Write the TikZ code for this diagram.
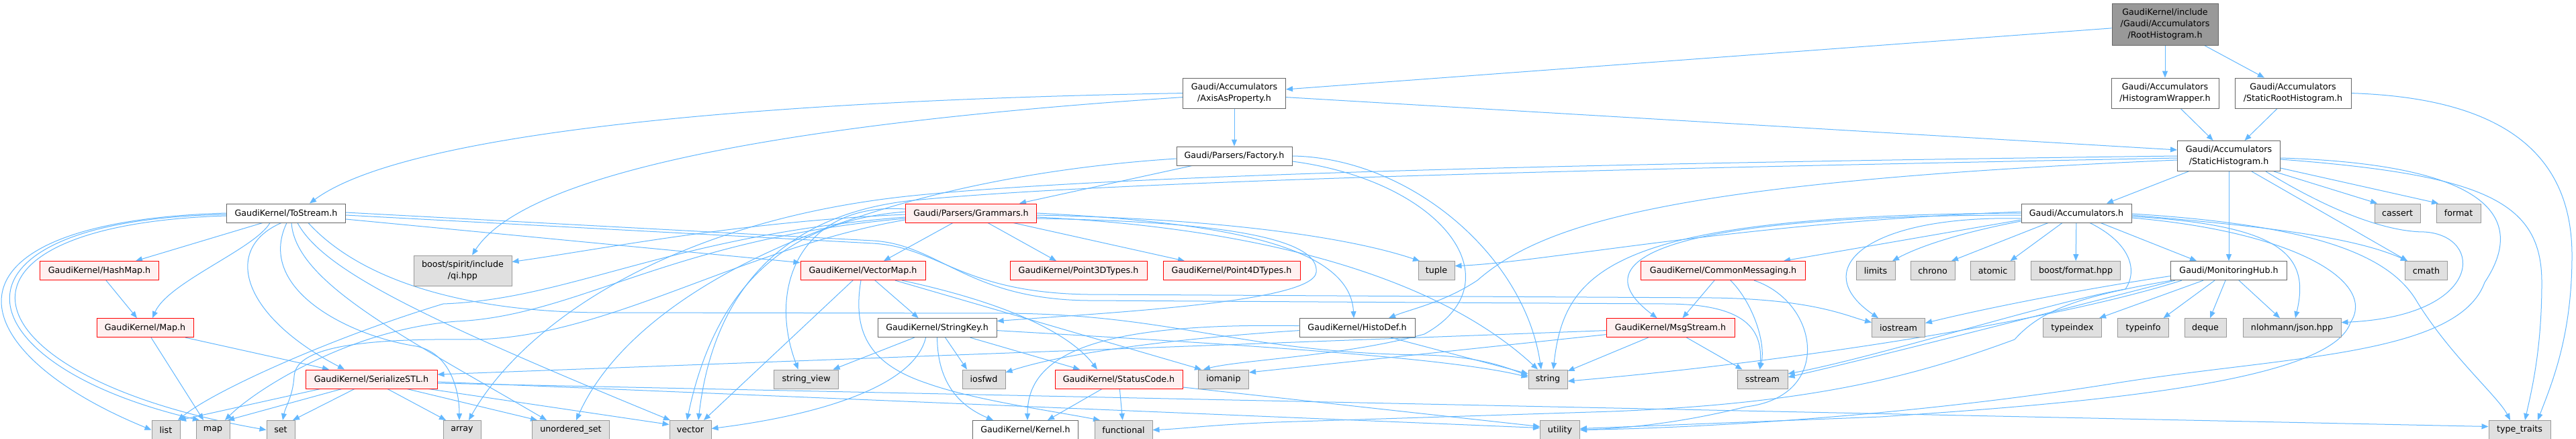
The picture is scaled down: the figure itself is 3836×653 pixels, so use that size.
\documentclass[tikz,border=0pt]{standalone}
\usepackage{fontspec}
\setmainfont{DejaVu Sans}
\usetikzlibrary{arrows.meta}
\definecolor{edgec}{HTML}{63B8FF}
\definecolor{plainb}{HTML}{666666}
\definecolor{sysb}{HTML}{999999}
\definecolor{sysf}{HTML}{E0E0E0}
\definecolor{redf}{HTML}{FFF0F0}
\definecolor{redb}{HTML}{FF0000}
\definecolor{rootf}{HTML}{999999}
\pgfdeclarelayer{bg}
\pgfsetlayers{bg,main}
\tikzset{
  nd/.style={rectangle, inner sep=0pt, font=\fontsize{12.7}{17.3}\selectfont, align=center, line width=1pt},
  pl/.style={nd, draw=plainb, fill=white},
  rd/.style={nd, draw=redb, fill=redf},
  sy/.style={nd, draw=sysb, fill=sysf},
  rt/.style={nd, draw=plainb, fill=rootf},
  e/.style={draw=edgec, line width=1pt, -{Triangle[length=10pt,width=8pt]}},
}
\begin{document}
\begin{tikzpicture}[x=1pt,y=-1pt]
\useasboundingbox (0,0) rectangle (3836,653);
% ---------- nodes ----------
\node[rt, minimum width=158, minimum height=62] (root) at (3224,36) {GaudiKernel/include\\/Gaudi/Accumulators\\/RootHistogram.h};
\node[pl, minimum width=153, minimum height=45] (axis) at (1838,138.6) {Gaudi/Accumulators\\/AxisAsProperty.h};
\node[pl, minimum width=160, minimum height=45] (hwrap) at (3224,138.6) {Gaudi/Accumulators\\/HistogramWrapper.h};
\node[pl, minimum width=173, minimum height=45] (srh) at (3414.5,138.6) {Gaudi/Accumulators\\/StaticRootHistogram.h};
\node[pl, minimum width=172, minimum height=28] (factory) at (1838,232) {Gaudi/Parsers/Factory.h};
\node[pl, minimum width=153, minimum height=45] (sh) at (3319,232) {Gaudi/Accumulators\\/StaticHistogram.h};
\node[pl, minimum width=177, minimum height=28] (tostream) at (426,317) {GaudiKernel/ToStream.h};
\node[rd, minimum width=195, minimum height=28] (grammars) at (1446,317) {Gaudi/Parsers/Grammars.h};
\node[pl, minimum width=164, minimum height=28] (acc) at (3092,317) {Gaudi/Accumulators.h};
\node[sy, minimum width=68, minimum height=28] (cassert) at (3570,317) {cassert};
\node[sy, minimum width=66, minimum height=28] (format) at (3661,317) {format};
\node[rd, minimum width=177, minimum height=28] (hashmap) at (148,402.6) {GaudiKernel/HashMap.h};
\node[sy, minimum width=146, minimum height=45] (qi) at (689,402.5) {boost/spirit/include\\/qi.hpp};
\node[rd, minimum width=186, minimum height=28] (vectormap) at (1285,402.6) {GaudiKernel/VectorMap.h};
\node[rd, minimum width=204, minimum height=28] (p3d) at (1606,402.6) {GaudiKernel/Point3DTypes.h};
\node[rd, minimum width=204, minimum height=28] (p4d) at (1834,402.6) {GaudiKernel/Point4DTypes.h};
\node[sy, minimum width=54, minimum height=28] (tuple) at (2139,402.6) {tuple};
\node[rd, minimum width=245, minimum height=28] (cm) at (2566,402.6) {GaudiKernel/CommonMessaging.h};
\node[sy, minimum width=58, minimum height=28] (limits) at (2793,402.6) {limits};
\node[sy, minimum width=66, minimum height=28] (chrono) at (2878,402.6) {chrono};
\node[sy, minimum width=66, minimum height=28] (atomic) at (2967.6,402.6) {atomic};
\node[sy, minimum width=133, minimum height=28] (bformat) at (3091,402.6) {boost/format.hpp};
\node[pl, minimum width=173, minimum height=28] (mhub) at (3319,402.6) {Gaudi/MonitoringHub.h};
\node[sy, minimum width=63, minimum height=28] (cmath) at (3613,402.6) {cmath};
\node[rd, minimum width=144, minimum height=28] (maph) at (216,487.6) {GaudiKernel/Map.h};
\node[pl, minimum width=177, minimum height=28] (stringkey) at (1395.6,487.6) {GaudiKernel/StringKey.h};
\node[pl, minimum width=172, minimum height=28] (histodef) at (2021,487.6) {GaudiKernel/HistoDef.h};
\node[rd, minimum width=191, minimum height=28] (msgstream) at (2487.5,487.6) {GaudiKernel/MsgStream.h};
\node[sy, minimum width=79, minimum height=28] (iostream) at (2827,487.6) {iostream};
\node[sy, minimum width=87, minimum height=28] (typeindex) at (3086,487.6) {typeindex};
\node[sy, minimum width=76, minimum height=28] (typeinfo) at (3191.6,487.6) {typeinfo};
\node[sy, minimum width=62, minimum height=28] (deque) at (3284,487.6) {deque};
\node[sy, minimum width=146, minimum height=28] (json) at (3413,487.6) {nlohmann/json.hpp};
\node[rd, minimum width=196, minimum height=28] (sstl) at (553,564) {GaudiKernel/SerializeSTL.h};
\node[sy, minimum width=96, minimum height=28] (stringview) at (1200.6,564) {string\_view};
\node[sy, minimum width=64, minimum height=28] (iosfwd) at (1465,564) {iosfwd};
\node[rd, minimum width=190, minimum height=28] (statuscode) at (1666,564) {GaudiKernel/StatusCode.h};
\node[sy, minimum width=75, minimum height=28] (iomanip) at (1822,564) {iomanip};
\node[sy, minimum width=58, minimum height=28] (string) at (2305,564) {string};
\node[sy, minimum width=75, minimum height=28] (sstream) at (2624.5,564) {sstream};
\node[sy, minimum width=42, minimum height=28] (list) at (247,639.5) {list};
\node[sy, minimum width=50, minimum height=28] (map) at (317,639.5) {map};
\node[sy, minimum width=42, minimum height=28] (set) at (418,639.5) {set};
\node[sy, minimum width=56, minimum height=28] (array) at (688,639.5) {array};
\node[sy, minimum width=115, minimum height=28] (uset) at (850,639.5) {unordered\_set};
\node[sy, minimum width=62, minimum height=28] (vector) at (1028,639.5) {vector};
\node[pl, minimum width=157, minimum height=28] (kernel) at (1527,639.5) {GaudiKernel/Kernel.h};
\node[sy, minimum width=86, minimum height=28] (functional) at (1673,639.5) {functional};
\node[sy, minimum width=59, minimum height=28] (utility) at (2323,639.5) {utility};
\node[sy, minimum width=92, minimum height=28] (typetraits) at (3752,639.5) {type\_traits};
% ---------- edges ----------
\begin{pgfonlayer}{bg}
\fill[white] (0,0) rectangle (3836,653);
% root
\draw[e] (root) -- (axis);
\draw[e] (root) -- (hwrap);
\draw[e] (root) -- (srh);
\draw[e] (hwrap) -- (sh);
\draw[e] (srh) -- (sh);
\draw[e] (srh.east) .. controls (3700,145) and (3830,210) .. (3830,380) .. controls (3830,500) and (3800,570) .. ([xshift=27pt]typetraits.north);
% axis
\draw[e] (axis.west) .. controls (1100,150) and (600,200) .. ([xshift=35pt]tostream.north);
\draw[e] ([yshift=-6pt]axis.west) .. controls (1150,185) and (780,260) .. ([xshift=14pt]qi.north);
\draw[e] (axis) -- (factory);
\draw[e] ([yshift=-6pt]axis.east) -- ([yshift=9pt]sh.west);
% factory
\draw[e] ([xshift=-63pt]factory.south) -- ([xshift=72pt]grammars.north);
\draw[e] ([yshift=-4pt]factory.west) .. controls (1300,265) and (950,420) .. ([xshift=8pt]uset.north);
\draw[e] (factory.east) .. controls (2100,235) and (2270,380) .. ([xshift=-10pt]string.north);
\draw[e] ([yshift=-8pt]factory.east) .. controls (2150,270) and (2260,420) .. (2121,497) .. controls (2000,530) and (1850,535) .. ([xshift=-30pt]iomanip.north);
% static histogram
\draw[e] ([xshift=-60pt]sh.south) -- ([xshift=45pt]acc.north);
\draw[e] (sh) -- (mhub);
\draw[e] ([xshift=67pt]sh.south) -- ([xshift=-30pt]cassert.north);
\draw[e] ([yshift=-18pt]sh.east) -- ([xshift=-30pt]format.north);
\draw[e] ([xshift=34pt]sh.south) -- ([xshift=-28pt]cmath.north);
\draw[e] ([xshift=55pt]sh.south) .. controls (3480,320) and (3560,345) .. (3610,345) .. controls (3700,350) and (3700,470) .. ([yshift=8pt]json.east);
\draw[e] ([yshift=-5pt]sh.east) .. controls (3700,260) and (3785,300) .. (3785,420) .. controls (3785,520) and (3770,580) .. ([xshift=8pt]typetraits.north);
\draw[e] ([yshift=-3pt]sh.east) .. controls (3720,245) and (3760,330) .. (3700,420) .. controls (3660,530) and (3400,530) .. (3150,570) .. controls (2900,610) and (2600,635) .. (utility.east);
\draw[e] (sh.west) .. controls (2600,240) and (1700,255) .. (1350,292) .. controls (1000,330) and (780,480) .. ([xshift=10pt]array.north);
\draw[e] ([yshift=-3pt]sh.west) .. controls (2600,248) and (1700,265) .. (1360,298) .. controls (1150,320) and (1060,450) .. ([xshift=12pt]vector.north);
\draw[e] ([yshift=-6pt]sh.west) .. controls (2500,270) and (2300,330) .. (2200,417) .. controls (2150,450) and (2100,460) .. ([xshift=47pt]histodef.north);
% ToStream
\draw[e] ([xshift=-35pt]tostream.south) -- ([xshift=54pt]hashmap.north);
\draw[e] ([xshift=-24pt]tostream.south) .. controls (380,370) and (250,420) .. ([xshift=11pt]maph.north);
\draw[e] ([xshift=-7pt]tostream.south) .. controls (330,370) and (360,470) .. ([xshift=-40pt]sstl.north);
\draw[e] (tostream.west) .. controls (-110,330) and (-67,520) .. (list.west);
\draw[e] ([yshift=-2pt]tostream.west) .. controls (-105,327) and (-65,540) .. ([xshift=-20pt]map.north);
\draw[e] ([yshift=-4pt]tostream.west) .. controls (-120,335) and (-58,560) .. (set.west);
\draw[e] ([xshift=1pt]tostream.south) .. controls (380,430) and (520,500) .. (620,515) .. controls (670,525) and (684,580) .. ([xshift=-4pt]array.north);
\draw[e] ([xshift=8pt]tostream.south) .. controls (440,420) and (600,500) .. ([xshift=-36pt]uset.north);
\draw[e] ([xshift=17pt]tostream.south) .. controls (480,400) and (620,470) .. ([xshift=-30pt]vector.north);
\draw[e] ([xshift=33pt]tostream.south) .. controls (540,420) and (700,465) .. (900,465) -- (1500,466) .. controls (1750,468) and (1850,525) .. (2120,528) .. controls (2200,530) and (2240,545) .. ([yshift=5pt]string.west);
\draw[e] ([yshift=-9pt]tostream.east) -- ([yshift=12pt]vectormap.west);
\draw[e] ([yshift=-3pt]tostream.east) -- (1300,362) .. controls (1400,368) and (1430,435) .. (1620,438) -- (2550,443) .. controls (2700,445) and (2750,470) .. ([yshift=8pt]iostream.west);
\draw[e] ([yshift=1pt]tostream.east) -- (1300,358) .. controls (1400,364) and (1440,445) .. (1620,447) -- (2480,452) .. controls (2600,452) and (2625,490) .. ([xshift=-4pt]sstream.north);
% Grammars
\draw[e] ([xshift=-27pt]grammars.south) -- ([xshift=31pt]vectormap.north);
\draw[e] ([xshift=25pt]grammars.south) -- ([xshift=-33pt]p3d.north);
\draw[e] ([xshift=63pt]grammars.south) -- ([xshift=-70pt]p4d.north);
\draw[e] ([yshift=-3pt]grammars.east) .. controls (1800,325) and (2000,350) .. ([xshift=-25pt]tuple.north);
\draw[e] (grammars.east) .. controls (1800,330) and (2010,360) .. ([xshift=-5pt]histodef.north);
\draw[e] ([yshift=-6pt]grammars.east) .. controls (1900,340) and (2150,420) .. ([xshift=-15pt]string.north);
\draw[e] ([yshift=-8pt]grammars.east) .. controls (1850,330) and (1965,360) .. (1960,405) .. controls (1955,450) and (1650,465) .. ([yshift=10pt]stringkey.east);
\draw[e] ([yshift=-2pt]grammars.west) .. controls (1100,330) and (900,370) .. ([yshift=13pt]qi.east);
\draw[e] ([yshift=-6pt]grammars.west) .. controls (1000,350) and (850,445) .. (660,452) .. controls (500,500) and (320,580) .. ([xshift=18pt]list.north);
\draw[e] ([yshift=-8pt]grammars.west) .. controls (1000,355) and (860,470) .. (680,478) .. controls (520,490) and (380,580) .. ([xshift=18pt]map.north);
\draw[e] ([yshift=-10pt]grammars.west) .. controls (1100,370) and (900,505) .. (700,505) .. controls (520,503) and (440,520) .. (438,560) .. controls (436,590) and (425,605) .. ([xshift=3pt]set.north);
\draw[e] ([yshift=2pt]grammars.west) .. controls (1150,330) and (1060,450) .. ([xshift=-5pt]vector.north);
\draw[e] ([yshift=6pt]grammars.west) .. controls (1200,300) and (1140,420) .. ([xshift=-12pt]stringview.north);
% VectorMap
\draw[e] ([xshift=18pt]vectormap.south) -- ([xshift=-28pt]stringkey.north);
\draw[e] ([xshift=-15pt]vectormap.south) -- ([xshift=20pt]vector.north);
\draw[e] ([xshift=58pt]vectormap.south) .. controls (1450,440) and (1580,480) .. ([xshift=-32pt]statuscode.north);
\draw[e] ([xshift=-3pt]vectormap.south) .. controls (1270,490) and (1290,540) .. (1380,570) .. controls (1450,595) and (1560,610) .. ([xshift=-35pt]functional.north);
\draw[e] ([xshift=48pt]vectormap.south) -- ([xshift=-33pt]iomanip.north);
% StringKey
\draw[e] ([xshift=-34pt]stringkey.south) -- ([xshift=40pt]stringview.north);
\draw[e] ([xshift=-17pt]stringkey.south) .. controls (1360,580) and (1200,620) .. ([yshift=2pt]vector.east);
\draw[e] (stringkey.south) .. controls (1396,560) and (1420,600) .. ([xshift=-48pt]kernel.north);
\draw[e] ([xshift=12pt]stringkey.south) -- ([xshift=-25pt]iosfwd.north);
\draw[e] ([xshift=49pt]stringkey.south) -- ([xshift=-58pt]statuscode.north);
\draw[e] ([yshift=-4pt]stringkey.east) .. controls (1800,510) and (2150,530) .. ([yshift=3pt]string.west);
% StatusCode
\draw[e] ([xshift=-25pt]statuscode.south) -- ([xshift=33pt]kernel.north);
\draw[e] (statuscode) -- (functional);
\draw[e] ([yshift=-12pt]statuscode.east) -- ([yshift=5pt]utility.west);
% HistoDef
\draw[e] ([yshift=3pt]histodef.west) .. controls (1650,480) and (1530,520) .. ([xshift=3pt]kernel.north);
\draw[e] ([yshift=-4pt]histodef.west) .. controls (1800,500) and (1600,520) .. ([yshift=10pt]iosfwd.east);
\draw[e] ([xshift=50pt]histodef.south) -- ([yshift=8pt]string.west);
% MsgStream
\draw[e] ([yshift=-4pt]msgstream.west) -- ([yshift=7pt]sstl.east);
\draw[e] ([yshift=-10pt]msgstream.west) -- ([yshift=10pt]iomanip.east);
\draw[e] ([xshift=-33pt]msgstream.south) -- ([yshift=12pt]string.east);
\draw[e] ([xshift=24pt]msgstream.south) -- ([xshift=-30pt]sstream.north);
% CommonMessaging
\draw[e] ([xshift=-13pt]cm.south) -- ([xshift=18pt]msgstream.north);
\draw[e] ([xshift=11pt]cm.south) .. controls (2610,450) and (2630,510) .. ([xshift=-4pt]sstream.north);
\draw[e] ([xshift=46pt]cm.south) .. controls (2710,450) and (2730,590) .. (2600,605) .. controls (2500,630) and (2420,637) .. (utility.east);
% Accumulators
\draw[e] ([xshift=36pt]acc.south) -- ([xshift=-48pt]mhub.north);
\draw[e] (acc) -- (bformat);
\draw[e] ([xshift=-21pt]acc.south) -- ([xshift=26pt]atomic.north);
\draw[e] ([xshift=-42pt]acc.south) -- ([xshift=28pt]chrono.north);
\draw[e] ([yshift=-12pt]acc.west) .. controls (2950,340) and (2870,360) .. ([xshift=25pt]limits.north);
\draw[e] ([yshift=-8pt]acc.west) .. controls (2780,320) and (2690,400) .. ([xshift=-30pt]iostream.north);
\draw[e] ([yshift=-10pt]acc.west) -- ([xshift=90pt]cm.north);
\draw[e] ([yshift=-3pt]acc.west) .. controls (2480,320) and (2350,385) .. ([xshift=-20pt]msgstream.north);
\draw[e] ([yshift=2pt]acc.west) .. controls (2600,330) and (2300,390) .. ([yshift=7pt]tuple.east);
\draw[e] (acc.west) .. controls (2400,320) and (2330,400) .. ([xshift=8pt]string.north);
\draw[e] ([xshift=20pt]acc.south) .. controls (3170,360) and (3185,400) .. (3165,430) .. controls (3050,450) and (2800,530) .. ([yshift=8pt]sstream.east);
\draw[e] ([yshift=-3pt]acc.east) .. controls (3350,335) and (3500,350) .. ([xshift=-28pt]cmath.north);
\draw[e] ([yshift=-5pt]acc.east) .. controls (3400,335) and (3440,380) .. ([xshift=5pt]json.north);
\draw[e] ([yshift=-1pt]acc.east) .. controls (3450,335) and (3560,380) .. (3600,450) .. controls (3650,530) and (3720,590) .. ([xshift=-14pt]typetraits.north);
\draw[e] ([yshift=-7pt]acc.east) .. controls (3420,345) and (3540,420) .. (3500,480) .. controls (3470,570) and (3100,600) .. (2800,620) -- ([yshift=2pt]utility.east);
% MonitoringHub
\draw[e] ([xshift=-38pt]mhub.south) -- ([xshift=40pt]typeindex.north);
\draw[e] ([xshift=-21pt]mhub.south) -- ([xshift=30pt]typeinfo.north);
\draw[e] ([xshift=-5pt]mhub.south) -- ([xshift=7pt]deque.north);
\draw[e] ([xshift=15pt]mhub.south) -- ([xshift=-18pt]json.north);
\draw[e] ([yshift=-8pt]mhub.west) .. controls (3100,430) and (2950,460) .. ([yshift=7pt]iostream.east);
\draw[e] ([xshift=-80pt]mhub.south) .. controls (3150,440) and (2800,530) .. ([yshift=3pt]sstream.east);
\draw[e] ([xshift=-70pt]mhub.south) .. controls (3050,480) and (2650,540) .. ([yshift=-3pt]string.east);
\draw[e] ([xshift=-85pt]mhub.south) .. controls (3100,440) and (3040,460) .. (3000,505) .. controls (2850,560) and (2700,600) .. (2400,612) -- (1900,628) .. controls (1800,632) and (1760,638) .. (functional.east);
% SerializeSTL
\draw[e] ([xshift=-76pt]sstl.south) -- ([xshift=20pt]list.north);
\draw[e] ([xshift=-44pt]sstl.south) -- ([xshift=22pt]map.north);
\draw[e] ([xshift=-25pt]sstl.south) -- ([xshift=18pt]set.north);
\draw[e] ([xshift=24pt]sstl.south) -- ([xshift=-24pt]array.north);
\draw[e] ([xshift=53pt]sstl.south) -- ([xshift=-50pt]uset.north);
\draw[e] ([xshift=85pt]sstl.south) -- ([yshift=8pt]vector.west);
\draw[e] ([yshift=-4pt]sstl.east) -- ([yshift=3pt]utility.west);
\draw[e] ([yshift=-6pt]sstl.east) -- ([yshift=5pt]typetraits.west);
% Map / HashMap
\draw[e] ([xshift=9pt]maph.south) -- ([xshift=-14pt]map.north);
\draw[e] ([xshift=60pt]maph.south) -- ([xshift=-63pt]sstl.north);
\draw[e] ([xshift=10pt]hashmap.south) -- ([xshift=-12pt]maph.north);
\end{pgfonlayer}
\end{tikzpicture}
\end{document}
